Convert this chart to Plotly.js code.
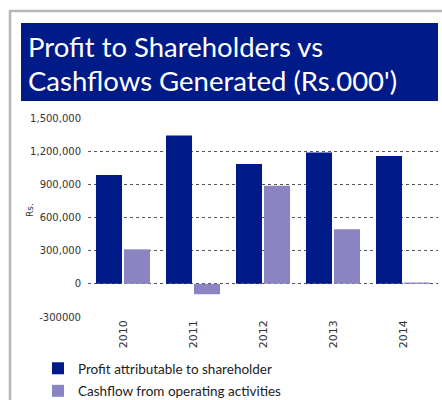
<!DOCTYPE html>
<html>
<head>
<meta charset="utf-8">
<script src="https://cdn.plot.ly/plotly-3.0.1.min.js"></script>
<style>html,body{margin:0;padding:0;background:#fff;}#chart{width:442px;height:400px;}</style>
</head>
<body>
<div id="chart"></div>
<script>
const years = ["2010", "2011", "2012", "2013", "2014"];
const profit = [985000, 1342000, 1085000, 1188000, 1157000];
const cashflow = [312000, -94000, 888000, 494000, 12000];
const tickVals = [-300000, 0, 300000, 600000, 900000, 1200000, 1500000];
const tickText = ["-300000", "0", "300,000", "600,000", "900,000", "1,200,000", "1,500,000"];
const seriesNames = ["Profit attributable to shareholder", "Cashflow from operating activities"];
const titleLines = ["Profit to Shareholders vs", "Cashflows Generated (Rs.000')"];

// pixel helpers (plot area: x 88..438, y 118..317)
const L = 88, R = 4, T = 118, B = 83, W = 442, H = 400;
const pw = W - L - R, ph = H - T - B;
const px = x => (x - L) / pw;
const py = y => (H - B - y) / ph;

const traces = [
  {type: "bar", x: years, y: profit, name: seriesNames[0], marker: {color: "#001a88"}, legendgroup: "a"},
  {type: "bar", x: years, y: cashflow, name: seriesNames[1], marker: {color: "#8a84c3"}, legendgroup: "b"}
];

const layout = {
  width: W, height: H,
  margin: {l: L, r: R, t: T, b: B, pad: 0, autoexpand: false},
  paper_bgcolor: "#fff", plot_bgcolor: "#fff",
  barmode: "group", bargap: 0.2, bargroupgap: 0.07,
  showlegend: true,
  legend: {x: px(38), y: py(353), xanchor: "left", yanchor: "top",
           font: {family: "Lato, sans-serif", size: 13.5, color: "#222"}, tracegroupgap: 2, itemwidth: 30,
           bgcolor: "rgba(0,0,0,0)"},
  xaxis: {type: "category", showgrid: false, zeroline: false, showline: false, ticks: "", automargin: false,
          tickangle: -90, tickfont: {family: "DejaVu Sans, sans-serif", size: 11, color: "#333"}},
  yaxis: {range: [-300000, 1500000], tickvals: tickVals, ticktext: tickText, zeroline: false, automargin: false,
          showgrid: true, gridcolor: "#555", gridwidth: 1, griddash: "dot", showline: false, ticks: "",
          ticklabelstandoff: 6, tickfont: {family: "DejaVu Sans, sans-serif", size: 10, color: "#333"}},
  shapes: [
    {type: "line", xref: "paper", yref: "paper", x0: px(9), x1: px(442), y0: py(11), y1: py(11), line: {color: "#b8b8b8", width: 2.5}},
    {type: "line", xref: "paper", yref: "paper", x0: px(10), x1: px(10), y0: py(10), y1: py(400), line: {color: "#b8b8b8", width: 2.5}},
    {type: "rect", xref: "paper", yref: "paper", x0: px(21), x1: px(438), y0: py(23), y1: py(101), fillcolor: "#001a87", line: {width: 0}, layer: "below"}
  ],
  annotations: [
    {xref: "paper", yref: "paper", x: px(26), y: py(47), xanchor: "left", yanchor: "middle", showarrow: false,
     text: titleLines[0], font: {family: "Lato, sans-serif", size: 27.5, color: "#fff"}},
    {xref: "paper", yref: "paper", x: px(26), y: py(80), xanchor: "left", yanchor: "middle", showarrow: false,
     text: titleLines[1], font: {family: "Lato, sans-serif", size: 27.5, color: "#fff"}},
    {xref: "paper", yref: "paper", x: px(30), y: py(210), xanchor: "center", yanchor: "middle", showarrow: false,
     text: "Rs.", textangle: -90, font: {family: "DejaVu Sans, sans-serif", size: 9, color: "#333"}}
  ]
};

Plotly.newPlot("chart", traces, layout, {displayModeBar: false, staticPlot: true});
</script>
</body>
</html>
